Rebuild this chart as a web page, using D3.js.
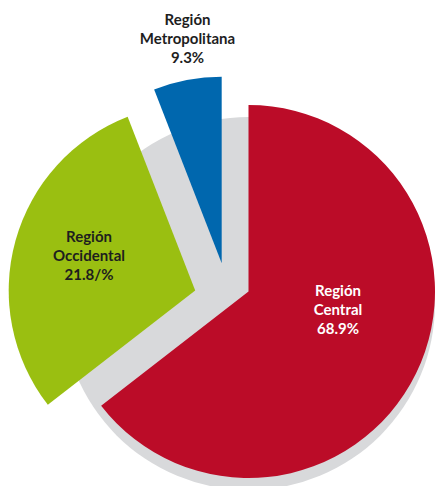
<!DOCTYPE html>
<html>
<head>
<meta charset="utf-8">
<script src="https://cdn.jsdelivr.net/npm/d3@7"></script>
<style>
  html, body { margin: 0; padding: 0; background: #fff; }
  svg { display: block; }
</style>
</head>
<body>
<svg id="chart"></svg>
<script>
// Data
const regions = ['Región Central', 'Región Occidental', 'Región Metropolitana'];
const percentLabels = ['68.9%', '21.8/%', '9.3%'];
// slice sizes as they are drawn in the picture (the artwork is not proportional to the labels)
const drawnShares = [64.5, 29.6, 5.9];

const colors = ['#bb0c28', '#9abf11', '#0067ae'];
const textColors = ['#ffffff', '#1e1e1e', '#1e1e1e'];

const width = 435;
const height = 486;
const radius = 186.5;
const cx = 248.5;
const cy = 291.5;

// Exploded slice shifts and label anchors, relative to the pie centre
const shifts = [[0, 0], [-53.3, -1], [-26.8, -28.2]];
const labelAnchors = [[89.5, 4.5], [-159.5, -50], [-61, -267]];

const svg = d3.select('#chart')
  .attr('width', width)
  .attr('height', height);

const g = svg.append('g')
  .attr('transform', `translate(${cx},${cy})`);

const arc = d3.arc().innerRadius(0).outerRadius(radius);

// Grey shadow disc behind the slices
g.append('path')
  .attr('d', arc({ startAngle: 0, endAngle: 2 * Math.PI }))
  .attr('transform', 'translate(0,12)')
  .attr('fill', '#d8d9db');

const pie = d3.pie().sort(null).value((d) => d.share);
const data = regions.map((name, i) => ({
  name,
  share: drawnShares[i],
  label: percentLabels[i],
  i
}));

g.selectAll('.slice')
  .data(pie(data))
  .enter()
  .append('path')
  .attr('class', 'slice')
  .attr('d', arc)
  .attr('transform', (d) => `translate(${shifts[d.data.i][0]},${shifts[d.data.i][1]})`)
  .attr('fill', (d) => colors[d.data.i]);

// Labels: "Región" / rest of name / percent
const labels = g.selectAll('.label')
  .data(data)
  .enter()
  .append('text')
  .attr('class', 'label')
  .attr('text-anchor', 'middle')
  .attr('fill', (d) => textColors[d.i])
  .style('font-family', 'Lato, "DejaVu Sans", sans-serif')
  .style('font-weight', 'bold')
  .style('font-size', '15px');

labels.each(function (d) {
  const [lx, ly] = labelAnchors[d.i];
  const lines = ['Región', d.name.replace('Región ', ''), d.label];
  d3.select(this).selectAll('tspan')
    .data(lines)
    .enter()
    .append('tspan')
    .attr('x', lx)
    .attr('y', (t, k) => ly + k * 19.2)
    .text((t) => t);
});
</script>
</body>
</html>
